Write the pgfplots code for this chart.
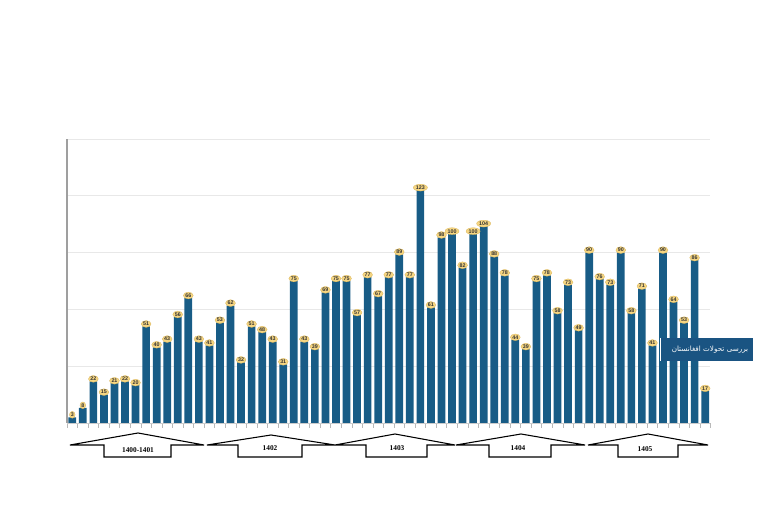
\documentclass[border=0pt]{standalone}
\usepackage{fontspec}
\setmainfont{Liberation Serif}
\newfontfamily\labfont{Liberation Sans}
\newfontfamily\arabicfont[Script=Arabic]{DejaVu Sans}
\TeXXeTstate=1
\usepackage{pgfplots}
\usetikzlibrary{shapes.geometric}
\pgfplotsset{compat=1.18}
\definecolor{barblue}{RGB}{24,92,134}
\definecolor{logoblue}{RGB}{26,84,130}
\definecolor{labgold}{RGB}{246,214,130}
\definecolor{labedge}{RGB}{215,178,85}
\begin{document}
\begin{tikzpicture}
\path[use as bounding box] (0,0) rectangle (576pt,390pt);
\begin{axis}[
  at={(50.25pt,72.75pt)}, anchor=south west,
  scale only axis, width=482.6pt, height=213pt,
  xmin=0.5, xmax=61.5, ymin=0, ymax=150,
  ybar, bar width=0.73,
  axis x line*=bottom, axis y line*=left,
  x axis line style={gray!40,-},
  y axis line style={gray!75, line width=0.8pt,-},
  xtick={0.5,1.5,...,61.5}, xticklabels={},
  tick align=outside, major tick length=3.75pt,
  xtick style={gray!55, line width=0.4pt},
  ytick={30,60,90,120,150}, yticklabels={},
  ytick style={draw=none},
  ymajorgrids, major grid style={gray!18, line width=0.7pt},
  nodes near coords={\labfont\bfseries\fontsize{4}{4.5}\selectfont\pgfmathprintnumber[assume math mode=true]{\pgfplotspointmeta}},
  every node near coord/.append style={ellipse, fill=labgold, draw=labedge, line width=0.2pt,
    inner sep=0.4pt, text=black!80, anchor=south, yshift=-0.8pt},
]
\addplot[fill=barblue, draw=none] coordinates {
(1,3) (2,8) (3,22) (4,15) (5,21) (6,22) (7,20) (8,51) (9,40) (10,43)
(11,56) (12,66) (13,43) (14,41) (15,53) (16,62) (17,32) (18,51) (19,48) (20,43)
(21,31) (22,75) (23,43) (24,39) (25,69) (26,75) (27,75) (28,57) (29,77) (30,67)
(31,77) (32,89) (33,77) (34,123) (35,61) (36,98) (37,100) (38,82) (39,100) (40,104)
(41,88) (42,78) (43,44) (44,39) (45,75) (46,78) (47,58) (48,73) (49,49) (50,90)
(51,76) (52,73) (53,90) (54,58) (55,71) (56,41) (57,90) (58,64) (59,53) (60,86)
(61,17)
};
\end{axis}
\begin{scope}[x=0.75pt, y=-0.75pt, shift={(0,390pt)}]
\begin{scope}[line width=0.8pt, black, line join=miter]
\draw (70,445) -- (138,433) -- (204,445) -- (171,445) -- (171,457) -- (104,457) -- (104,445) -- cycle;
\draw (207,445) -- (271,435) -- (335,445) -- (302,445) -- (302,457) -- (238,457) -- (238,445) -- cycle;
\draw (335,445) -- (395,434) -- (455,445) -- (427,445) -- (427,457) -- (366,457) -- (366,445) -- cycle;
\draw (456,445) -- (521,434) -- (585,445) -- (551,445) -- (551,457) -- (489,457) -- (489,445) -- cycle;
\draw (588,445) -- (648,434) -- (708,445) -- (678,445) -- (678,457) -- (618,457) -- (618,445) -- cycle;
\end{scope}
\begin{scope}[font=\bfseries\fontsize{5.5}{6}\selectfont]
\node at (138,450) {1400-1401};
\node at (270,448) {1402};
\node at (397,448) {1403};
\node at (518,448) {1404};
\node at (645,449) {1405};
\end{scope}
\fill[logoblue] (660,338) rectangle (753,361);
\draw[white, line width=0.6pt] (660,338) -- (660,361);
\node[text=white, font=\arabicfont\fontsize{5.4}{6}\selectfont] at (710,349.5) {\beginR بررسی تحولات افغانستان\endR};
\end{scope}
\end{tikzpicture}
\end{document}
